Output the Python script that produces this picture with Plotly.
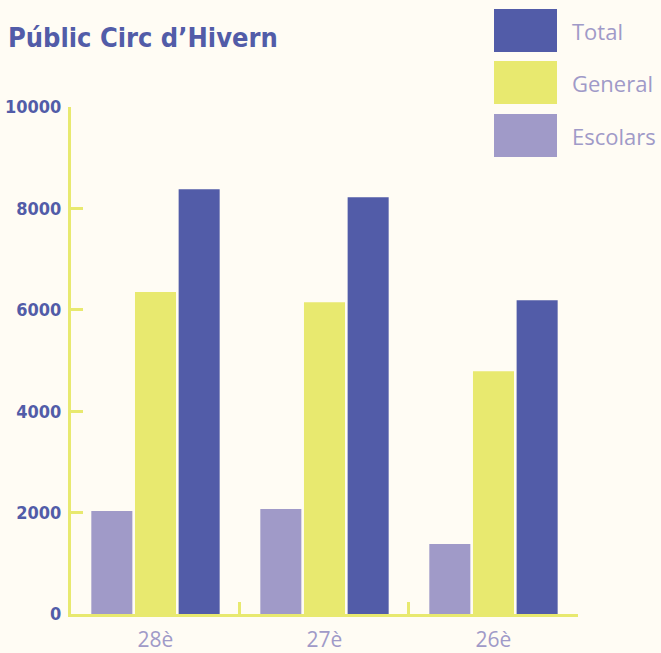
import plotly.graph_objects as go

categories = ["28è", "27è", "26è"]
escolars = [2030, 2070, 1380]
general = [6350, 6150, 4790]
total = [8380, 8220, 6190]
series_names = ["Total", "General", "Escolars"]
y_ticks = [0, 2000, 4000, 6000, 8000, 10000]

C_TOTAL = "#525ca8"
C_GENERAL = "#e8e96f"
C_ESC = "#a09ac8"
AXIS = "#e8e96f"
BG = "#fffcf4"

fig = go.Figure()
fig.add_trace(go.Bar(x=categories, y=escolars, name="Escolars", marker_color=C_ESC, marker_line_width=0))
fig.add_trace(go.Bar(x=categories, y=general, name="General", marker_color=C_GENERAL, marker_line_width=0))
fig.add_trace(go.Bar(x=categories, y=total, name="Total", marker_color=C_TOTAL, marker_line_width=0))

fig.update_layout(
    width=661, height=653,
    paper_bgcolor=BG, plot_bgcolor=BG,
    margin=dict(l=71, r=83, t=107, b=39),
    barmode="group", bargap=0.225, bargroupgap=0.06,
    showlegend=False,
    title=dict(text="<b>Públic Circ d’Hivern</b>", x=0.012, xanchor="left", y=0.957, yanchor="top",
               font=dict(family="DejaVu Sans Condensed, sans-serif", size=27, color=C_TOTAL)),
    xaxis=dict(range=[-0.5, 2.5001], showline=True, linecolor=AXIS, linewidth=3, ticks="inside",
               tickson="boundaries",
               ticklen=12, tickwidth=3, tickcolor=AXIS, showgrid=False, zeroline=False,
               tickfont=dict(family="Open Sans, sans-serif", size=21, color=C_ESC),
               ticklabelstandoff=5, automargin=False),
    yaxis=dict(range=[0, 10000], tickvals=y_ticks, showline=True, linecolor=AXIS, linewidth=3,
               ticks="inside", ticklen=12, tickwidth=3, tickcolor=AXIS, showgrid=False, zeroline=False,
               tickfont=dict(family="DejaVu Sans Condensed, sans-serif", size=18, color=C_TOTAL,
                             weight="bold"),
               tickformat="d", ticklabelstandoff=3, automargin=False),
)

colors = {"Total": C_TOTAL, "General": C_GENERAL, "Escolars": C_ESC}
tops = [9, 61, 114]
for name, top in zip(series_names, tops):
    fig.add_shape(type="rect", xref="paper", yref="paper",
                  x0=(494 - 71) / 507, x1=(557 - 71) / 507,
                  y0=(614 - (top + 43)) / 507, y1=(614 - top) / 507,
                  fillcolor=colors[name], line_width=0)
    fig.add_annotation(xref="paper", yref="paper", x=(570 - 71) / 507, y=(614 - (top + 22)) / 507,
                       text=name, showarrow=False, xanchor="left", yanchor="middle",
                       font=dict(family="Open Sans, sans-serif", size=22, color=C_ESC))

fig.write_html("out.html", config={"displayModeBar": False},
               post_script="document.body.style.margin='0';")
